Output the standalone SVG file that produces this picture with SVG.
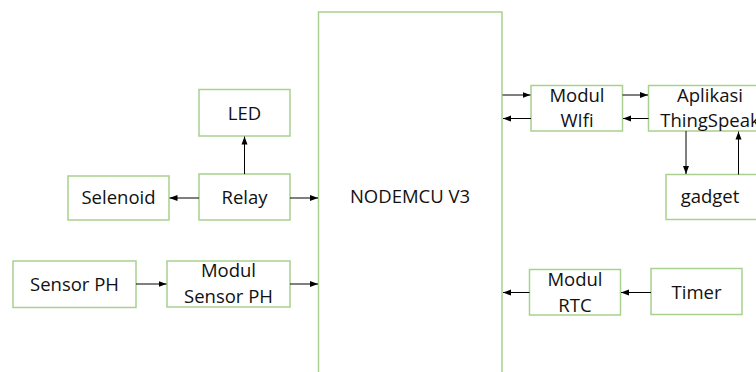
<svg xmlns="http://www.w3.org/2000/svg" width="756" height="372" viewBox="0 0 756 372">
<style>
.box{fill:#fff;stroke:#a9d18e;stroke-width:1.5}
.t{font-family:"Open Sans","Liberation Sans",sans-serif;font-size:18.5px;fill:#111;text-anchor:middle}
.c{stroke:#000;stroke-width:1;fill:none;marker-end:url(#ah)}
</style>
<defs>
<marker id="ah" viewBox="0 0 8 8" refX="8" refY="4" markerWidth="8" markerHeight="8" markerUnits="userSpaceOnUse" orient="auto">
<path d="M0,1 L8,4 L0,7 Z" fill="#000"/>
</marker>
</defs>
<rect width="756" height="372" fill="#fff"/>
<g id="nodemcu"><rect class="box" x="318.5" y="12" width="183.5" height="400"/><text class="t" x="410" y="203">NODEMCU V3</text></g>
<g id="led"><rect class="box" x="199" y="89.5" width="91" height="46.5"/><text class="t" x="244.5" y="120">LED</text></g>
<g id="relay"><rect class="box" x="199" y="174" width="91" height="46"/><text class="t" x="244.5" y="204">Relay</text></g>
<g id="selenoid"><rect class="box" x="68" y="176" width="101" height="44"/><text class="t" x="118.5" y="204">Selenoid</text></g>
<g id="sensorph"><rect class="box" x="13" y="261" width="123" height="46.5"/><text class="t" x="74.5" y="291">Sensor PH</text></g>
<g id="modulsensorph"><rect class="box" x="167" y="261" width="123" height="46"/><text class="t" x="228.5" y="277">Modul</text><text class="t" x="228.5" y="302.5">Sensor PH</text></g>
<g id="modulwifi"><rect class="box" x="531" y="85.5" width="91.5" height="45.5"/><text class="t" x="577" y="102">Modul</text><text class="t" x="577" y="127">WIfi</text></g>
<g id="thingspeak"><rect class="box" x="648.5" y="85.5" width="124" height="45.5"/><text class="t" x="710" y="102">Aplikasi</text><text class="t" x="710" y="127">ThingSpeak</text></g>
<g id="gadget"><rect class="box" x="666" y="174.5" width="92" height="45"/><text class="t" x="710" y="203">gadget</text></g>
<g id="modulrtc"><rect class="box" x="529.5" y="269.5" width="91" height="45.5"/><text class="t" x="575" y="286">Modul</text><text class="t" x="575" y="311.5">RTC</text></g>
<g id="timer"><rect class="box" x="651" y="268.5" width="91" height="46"/><text class="t" x="696.5" y="299">Timer</text></g>
<g id="connectors">
<line class="c" x1="244.5" y1="174" x2="244.5" y2="136.5"/>
<line class="c" x1="199" y1="198" x2="169.5" y2="198"/>
<line class="c" x1="290" y1="198" x2="318" y2="198"/>
<line class="c" x1="136" y1="284" x2="166.5" y2="284"/>
<line class="c" x1="290" y1="284" x2="318" y2="284"/>
<line class="c" x1="502.5" y1="95" x2="530.5" y2="95"/>
<line class="c" x1="531" y1="118.5" x2="503" y2="118.5"/>
<line class="c" x1="622.5" y1="95" x2="648" y2="95"/>
<line class="c" x1="648.5" y1="118.5" x2="623" y2="118.5"/>
<line class="c" x1="686" y1="131" x2="686" y2="174"/>
<line class="c" x1="738.5" y1="174.5" x2="738.5" y2="131.5"/>
<line class="c" x1="651" y1="292.5" x2="621" y2="292.5"/>
<line class="c" x1="529.5" y1="292.5" x2="503" y2="292.5"/>
</g>
</svg>
